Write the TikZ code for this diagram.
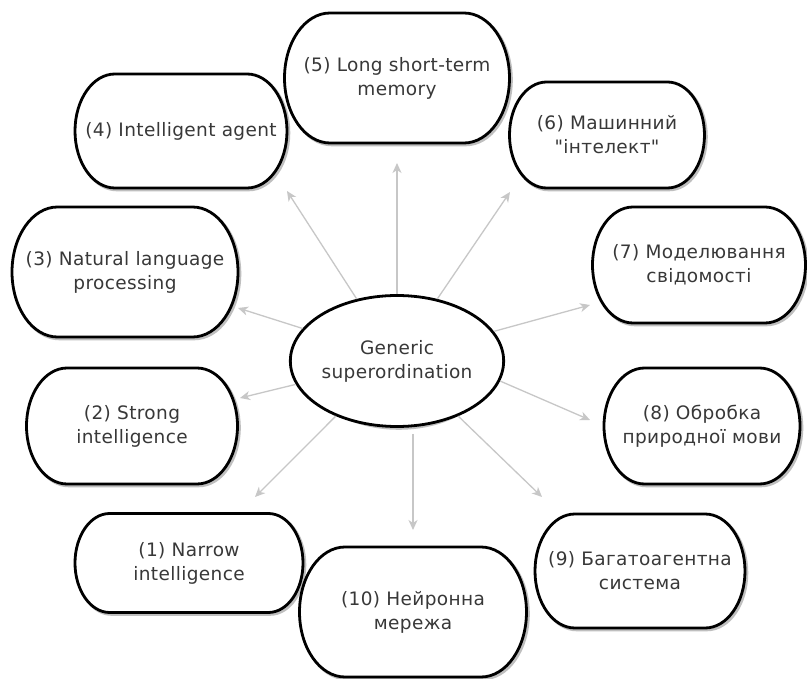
\documentclass[tikz,border=0pt]{standalone}
\usepackage{fontspec}
\setmainfont[LetterSpace=2,Ligatures=TeXOff]{DejaVu Sans}
\usetikzlibrary{shapes.geometric,arrows.meta}
\newcommand\stadnode[6]{%
 \pgfmathsetmacro\sxl{#2-#4/2}%
 \pgfmathsetmacro\sxr{#2+#4/2}%
 \pgfmathsetmacro\syt{#3-#5/2}%
 \pgfmathsetmacro\syb{#3+#5/2}%
 \pgfmathsetmacro\srx{0.35*#5}%
 \pgfmathsetmacro\sry{#5/2}%
 \draw[shade,shift={(1.8,1.8)}] (\sxl+\srx,\syt) -- (\sxr-\srx,\syt) arc[start angle=90,end angle=-90,x radius=\srx pt,y radius=\sry pt] -- (\sxl+\srx,\syb) arc[start angle=270,end angle=90,x radius=\srx pt,y radius=\sry pt] -- cycle;
 \draw[border,fill=white] (\sxl+\srx,\syt) -- (\sxr-\srx,\syt) arc[start angle=90,end angle=-90,x radius=\srx pt,y radius=\sry pt] -- (\sxl+\srx,\syb) arc[start angle=270,end angle=90,x radius=\srx pt,y radius=\sry pt] -- cycle;
 \node[lbl,minimum width=#4pt,minimum height=#5pt] (#1) at (#2,#3) {#6};
}
\begin{document}
\begin{tikzpicture}[x=1pt,y=-1pt,
  lbl/.style={align=center, font=\fontsize{18.5}{24}\selectfont, text=black!78, inner sep=0pt},
  border/.style={draw=black, line width=2.8pt},
  shade/.style={draw=black!25, line width=3pt},
  arr/.style={draw=black!22, line width=1.3pt, -{Stealth[length=10pt,width=9pt,inset=3pt]}},
]
\useasboundingbox[fill=white] (0,0) rectangle (807,679);

% outer nodes
\stadnode{n1}{189}{563}{228}{99}{(1) Narrow\\intelligence}
\stadnode{n2}{132}{426}{211}{116}{(2) Strong\\intelligence}
\stadnode{n3}{125}{272}{226}{130}{(3) Natural language\\processing}
\stadnode{n4}{181}{131}{212}{114}{(4) Intelligent agent}
\stadnode{n5}{397}{78}{225}{130}{(5) Long short-term\\memory}
\stadnode{n6}{607}{135}{195}{106}{(6) Машинний\\"інтелект"}
\stadnode{n7}{699}{265}{213}{116}{(7) Моделювання\\свідомості}
\stadnode{n8}{702}{426}{196}{116}{(8) Обробка\\природної мови}
\stadnode{n9}{640}{571}{210}{114}{(9) Багатоагентна\\система}
\stadnode{n10}{413}{612}{227}{130}{(10) Нейронна\\мережа}

% centre
\draw[shade] (398.8,362.8) ellipse[x radius=96.5pt, y radius=65.5pt];
\node[ellipse, border, fill=white, lbl, minimum width=193pt, minimum height=131pt] (c) at (397,361) {Generic\\superordination};

% arrow tips
\coordinate (t1) at (255,497);
\coordinate (t2) at (240,398);
\coordinate (t3) at (238,308);
\coordinate (t4) at (287,191);
\coordinate (t5) at (397,163);
\coordinate (t6) at (510,192);
\coordinate (t7) at (590,305);
\coordinate (t8) at (590,420);
\coordinate (t9) at (542,497);
\coordinate (t10) at (413,530);

\draw[arr] (c.222) -- (t1);
\draw[arr] (c.193) -- (t2);
\draw[arr] (c.161) -- (t3);
\draw[arr] (c.123) -- (t4);
\draw[arr] (c.90) -- (t5);
\draw[arr] (c.57) -- (t6);
\draw[arr] (c.17) -- (t7);
\draw[arr] (c.-11) -- (t8);
\draw[arr] (c.-42) -- (t9);
\draw[arr,shorten <=6pt] (c.south -| t10) -- (t10);
\end{tikzpicture}
\end{document}
